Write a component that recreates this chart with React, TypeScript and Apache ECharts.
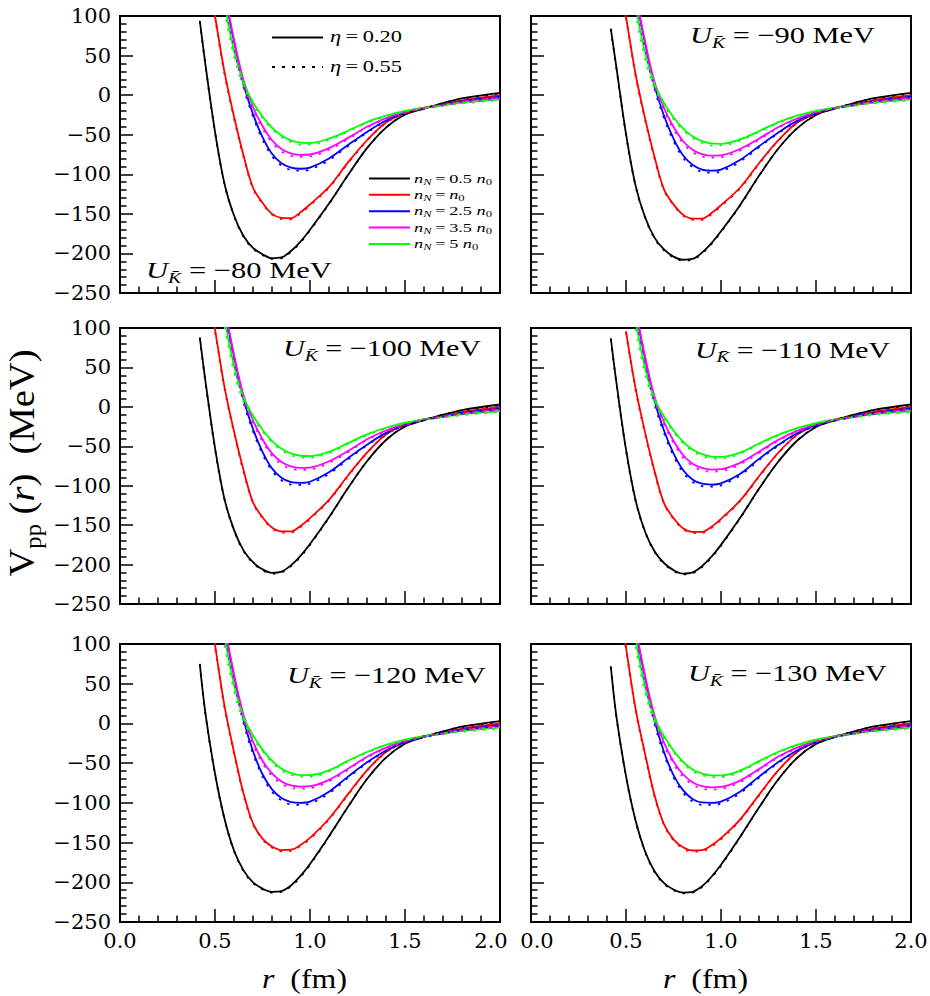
import React, { useEffect, useRef } from "react";
import * as echarts from "echarts";

// r grid (fm)
const R_FM = [0.42, 0.45, 0.5, 0.55, 0.6, 0.65, 0.7, 0.75, 0.8, 0.85, 0.9, 0.95, 1.0, 1.1, 1.2, 1.3, 1.4, 1.5, 1.6, 1.7, 1.8, 2.0];

const U_KBAR = [-80, -90, -100, -110, -120, -130];
const DENSITY_TEXT = ["0.5 ", "", "2.5 ", "3.5 ", "5 "];
const ETA_TEXT = ["0.20", "0.55"];
const COLORS = ["#000000", "#ff0000", "#0000ff", "#ff00ff", "#00ff00"];

// ---------- U = -80 MeV ----------
const u80_k = [94, 38, -46, -112, -152, -178, -193, -201, -206, -205, -197, -185, -170, -137, -101, -67, -41, -24.5, -17, -10, -4, 3];
const u80_r = [260, 170, 100, 29, -27, -76, -117, -136, -150, -155, -155.5, -148, -138, -116, -85, -57, -34.5, -22.5, -16, -12, -6.5, 0];
const u80_b = [400, 320, 220, 130, 68, 14, -24, -53, -74, -86, -91.5, -93, -91.5, -80, -63, -46.5, -32, -22.5, -16.5, -12, -7.5, -2];
const u80_m = [400, 320, 225, 135, 70, 19, -15, -39, -57, -68, -73.5, -75.5, -75, -67, -54, -40, -29, -21, -16, -12.5, -8.5, -3.5];
const u80_g = [380, 300, 205, 118, 56, 16, -9, -27, -41, -51, -57, -60, -60.5, -55, -45, -34, -26, -20, -16, -12.8, -9.5, -5.3];
const u80_kd = [93, 37, -47, -112.5, -152.5, -179, -194, -202, -207, -206, -198, -186, -171, -137.5, -101, -67, -41, -24.5, -17, -10, -4.5, 2];
const u80_rd = [255, 167, 98, 27, -29, -78, -118, -137, -151, -156.5, -157, -149.5, -139.5, -117, -86, -57.5, -35, -23, -16, -12.5, -7.5, -1.5];
const u80_bd = [390, 312, 214, 125, 63, 10, -27, -56, -77, -89, -94.5, -95.5, -94, -82, -64.5, -47.5, -33, -23.5, -17, -12.5, -8.5, -3];
const u80_md = [390, 312, 219, 129, 65, 14, -18, -42, -60, -71, -76.5, -78, -77.5, -69, -55.5, -41, -30, -22, -16.5, -13, -9.5, -4.5];
const u80_gd = [370, 290, 195, 108, 49, 11, -12, -29, -43, -53, -59, -62.5, -62.5, -56.5, -46, -35, -27, -21, -16.5, -13.5, -10.5, -6.5];

// ---------- U = -90 MeV ----------
const u90_k = [84, 34, -49, -114, -154, -180, -195, -204, -208, -207, -199, -187, -172, -139, -102, -68, -42, -25, -17, -10, -4, 3];
const u90_r = [258, 168, 99, 27, -29, -78, -119, -138, -151, -156, -156, -149, -139, -117, -86, -57.5, -35, -23, -16, -12, -6.5, 0];
const u90_b = [398, 318, 218, 128, 66, 12, -26, -55, -76, -88, -94, -95.5, -94, -82, -64.5, -47.5, -32.5, -23, -16.5, -12, -7.5, -2];
const u90_m = [398, 318, 222, 132, 68, 17, -16, -40, -58, -69, -74.5, -76.5, -76, -68, -55, -40.5, -29.5, -21, -16, -12.5, -8.5, -3.5];
const u90_g = [378, 298, 202, 115, 54, 14, -10, -28, -42, -52, -58, -61, -61.5, -56, -45.5, -34.5, -26, -20, -16, -12.8, -9.5, -5.3];
const u90_kd = [83, 33, -50, -114.5, -154.5, -181, -196, -205, -209, -208, -200, -188, -173, -139.5, -102, -68, -42, -25, -17, -10, -4.5, 2];
const u90_rd = [253, 165, 97, 25, -31, -80, -120, -139, -152, -157.5, -157.5, -150.5, -140.5, -118, -87, -58, -35.5, -23.5, -16, -12.5, -7.5, -1.5];
const u90_bd = [388, 310, 212, 123, 61, 8, -29, -58, -79, -91, -97, -98, -96.5, -84, -66, -48.5, -33.5, -23.5, -17, -12.5, -8.5, -3];
const u90_md = [388, 310, 216, 126, 63, 12, -19, -43, -61, -72, -77.5, -79, -78.5, -70, -56.5, -41.5, -30.5, -22, -16.5, -13, -9.5, -4.5];
const u90_gd = [368, 288, 192, 105, 47, 9, -13, -30, -44, -54, -60, -63.5, -63.5, -57.5, -46.5, -35.5, -27, -21, -16.5, -13.5, -10.5, -6.5];

// ---------- U = -100 MeV ----------
const u100_k = [88, 32, -52, -117, -156, -182, -197, -206, -210.5, -209, -201, -189, -174, -140, -103, -69, -42, -25, -17, -10, -4, 3];
const u100_r = [255, 166, 98, 25, -31, -80, -121, -140, -153, -158, -158, -151, -141, -118, -87, -58, -35, -23, -16, -12, -6.5, 0];
const u100_b = [395, 315, 215, 126, 64, 10, -28, -57, -78, -90, -95.5, -96.5, -95, -83, -65, -48, -33, -23, -16.5, -12, -7.5, -2];
const u100_m = [395, 315, 220, 130, 66, 15, -17, -41, -59, -70, -75.5, -77.5, -77, -69, -56, -41, -30, -21.5, -16, -12.5, -8.5, -3.5];
const u100_g = [375, 295, 200, 113, 52, 12, -11, -29, -43, -53, -59, -62, -62.5, -57, -46, -35, -26.5, -20, -16, -12.8, -9.5, -5.3];
const u100_kd = [87, 31, -53, -117.5, -156.5, -183, -198, -207, -211.5, -210, -202, -190, -175, -140.5, -103, -69, -42, -25, -17, -10, -4.5, 2];
const u100_rd = [250, 163, 96, 23, -33, -82, -122, -141, -154, -159.5, -159.5, -152.5, -142.5, -119, -88, -58.5, -35.5, -23.5, -16, -12.5, -7.5, -1.5];
const u100_bd = [385, 307, 209, 121, 59, 6, -31, -60, -81, -93, -98.5, -99, -97.5, -85, -66.5, -49, -34, -23.5, -17, -12.5, -8.5, -3];
const u100_md = [385, 307, 214, 124, 61, 10, -20, -44, -62, -73, -78.5, -80, -79.5, -71, -57.5, -42, -31, -22.5, -16.5, -13, -9.5, -4.5];
const u100_gd = [365, 285, 190, 103, 45, 7, -14, -31, -45, -55, -61, -64.5, -64.5, -58.5, -47, -36, -27.5, -21, -16.5, -13.5, -10.5, -6.5];

// ---------- U = -110 MeV ----------
const u110_k = [87, 30, -54, -118, -158, -183, -198, -207, -211.5, -210, -202, -190, -175, -141, -104, -70, -43, -25.5, -17, -10, -4, 3];
const u110_r = [null, null, 96, 24, -32, -81, -122, -141, -154, -158.5, -158.5, -152, -142, -119, -88, -58.5, -35.5, -23, -16, -12, -6.5, 0];
const u110_b = [392, 312, 212, 124, 62, 8, -30, -59, -80, -92, -97.5, -98.5, -97, -85, -66, -48.5, -33.5, -23.5, -17, -12, -7.5, -2];
const u110_m = [392, 312, 218, 128, 64, 13, -19, -43, -61, -72, -77.5, -79.5, -79, -71, -57, -42, -30.5, -22, -16.5, -12.5, -8.5, -3.5];
const u110_g = [372, 292, 198, 111, 50, 10, -12, -30, -44, -54, -60, -63, -63.5, -58, -46.5, -35.5, -27, -20.5, -16, -12.8, -9.5, -5.3];
const u110_kd = [86, 29, -55, -118.5, -158.5, -184, -199, -208, -212.5, -211, -203, -191, -176, -141.5, -104, -70, -43, -25.5, -17, -10, -4.5, 2];
const u110_rd = [null, null, 94, 22, -34, -83, -123, -142, -155, -160, -160, -153.5, -143.5, -120, -89, -59, -36, -23.5, -16, -12.5, -7.5, -1.5];
const u110_bd = [382, 304, 206, 119, 57, 4, -33, -62, -83, -95, -100.5, -101, -99.5, -87, -67.5, -49.5, -34.5, -24, -17.5, -12.5, -8.5, -3];
const u110_md = [382, 304, 212, 122, 59, 8, -22, -46, -64, -75, -80.5, -82, -81.5, -73, -58.5, -43, -31.5, -23, -17, -13, -9.5, -4.5];
const u110_gd = [362, 282, 188, 101, 43, 5, -15, -32, -46, -56, -62, -65.5, -65.5, -59.5, -47.5, -36.5, -28, -21.5, -16.5, -13.5, -10.5, -6.5];

// ---------- U = -120 MeV ----------
const u120_k = [75, 12, -63, -120, -160, -185, -200, -208, -212, -211, -204, -192, -177, -142, -105, -70, -43, -25.5, -17, -10, -4, 3];
const u120_r = [265, 175, 99, 22, -36, -88, -126, -145, -155, -159.5, -159, -153, -144, -120, -89, -59, -36, -23, -16, -12, -6.5, 0];
const u120_b = [390, 310, 210, 122, 60, 5, -35, -64, -83, -94, -99, -100, -98.5, -86, -67, -49, -34, -23.5, -17, -12, -7.5, -2];
const u120_m = [390, 310, 216, 126, 62, 11, -23, -47, -63, -73, -78, -79.5, -79, -71, -57, -42, -30.5, -22, -16.5, -12.5, -8.5, -3.5];
const u120_g = [370, 290, 196, 110, 49, 8, -15, -33, -47, -57, -62.5, -65, -65, -59, -47, -36, -27, -20.5, -16, -12.8, -9.5, -5.3];
const u120_kd = [74, 11, -64, -120.5, -160.5, -186, -201, -209, -213, -212, -205, -193, -178, -142.5, -105, -70, -43, -25.5, -17, -10, -4.5, 2];
const u120_rd = [260, 172, 97, 20, -38, -90, -127, -146, -156.5, -161, -160.5, -154.5, -145.5, -121, -90, -59.5, -36.5, -23.5, -16, -12.5, -7.5, -1.5];
const u120_bd = [380, 302, 204, 117, 55, 1, -38, -67, -86, -97, -102, -102.5, -101, -88, -68.5, -50, -35, -24, -17.5, -12.5, -8.5, -3];
const u120_md = [380, 302, 210, 120, 57, 6, -26, -50, -66, -76, -81, -82, -81.5, -73, -58.5, -43, -31.5, -23, -17, -13, -9.5, -4.5];
const u120_gd = [360, 280, 186, 100, 42, 3, -18, -35, -49, -59, -64.5, -67, -67, -60.5, -48, -37, -28, -21.5, -16.5, -13.5, -10.5, -6.5];

// ---------- U = -130 MeV ----------
const u130_k = [72, 8, -66, -122, -161, -186, -201, -209, -213, -212, -205, -193, -178, -143, -106, -71, -43.5, -26, -17, -10, -4, 3];
const u130_r = [270, 180, 96, 19, -38, -90, -127, -146, -156, -160, -159.5, -153.5, -144.5, -121, -90, -59.5, -36, -23, -16, -12, -6.5, 0];
const u130_b = [388, 308, 208, 120, 58, 4, -36, -65, -84, -95, -99.5, -100, -98.5, -86, -67, -49, -34, -23.5, -17, -12, -7.5, -2];
const u130_m = [388, 308, 214, 124, 60, 10, -24, -48, -64, -74, -79, -80.5, -80, -72, -57.5, -42, -30.5, -22, -16.5, -12.5, -8.5, -3.5];
const u130_g = [368, 288, 194, 108, 47, 7, -16, -34, -48, -58, -63, -65.5, -65.5, -59.5, -47.5, -36, -27, -20.5, -16, -12.8, -9.5, -5.3];
const u130_kd = [71, 7, -67, -122.5, -161.5, -187, -202, -210, -214, -213, -206, -194, -179, -143.5, -106, -71, -43.5, -26, -17, -10, -4.5, 2];
const u130_rd = [265, 177, 94, 17, -40, -92, -128, -147, -157.5, -161.5, -161, -155, -146, -122, -91, -60, -36.5, -23.5, -16, -12.5, -7.5, -1.5];
const u130_bd = [378, 300, 202, 115, 53, 0, -39, -68, -87, -98, -102.5, -102.5, -101, -88, -68.5, -50, -35, -24, -17.5, -12.5, -8.5, -3];
const u130_md = [378, 300, 208, 118, 55, 5, -27, -51, -67, -77, -82, -83, -82.5, -74, -59, -43, -31.5, -23, -17, -13, -9.5, -4.5];
const u130_gd = [358, 278, 184, 98, 40, 2, -19, -36, -50, -60, -65, -67.5, -67.5, -61, -48.5, -37, -28, -21.5, -16.5, -13.5, -10.5, -6.5];

const PANELS = [
  { solid: [u80_k, u80_r, u80_b, u80_m, u80_g], dotted: [u80_kd, u80_rd, u80_bd, u80_md, u80_gd] },
  { solid: [u90_k, u90_r, u90_b, u90_m, u90_g], dotted: [u90_kd, u90_rd, u90_bd, u90_md, u90_gd] },
  { solid: [u100_k, u100_r, u100_b, u100_m, u100_g], dotted: [u100_kd, u100_rd, u100_bd, u100_md, u100_gd] },
  { solid: [u110_k, u110_r, u110_b, u110_m, u110_g], dotted: [u110_kd, u110_rd, u110_bd, u110_md, u110_gd] },
  { solid: [u120_k, u120_r, u120_b, u120_m, u120_g], dotted: [u120_kd, u120_rd, u120_bd, u120_md, u120_gd] },
  { solid: [u130_k, u130_r, u130_b, u130_m, u130_g], dotted: [u130_kd, u130_rd, u130_bd, u130_md, u130_gd] },
];

// ---------- layout ----------
const W = 930;
const H = 996;
const FONT = "DejaVu Serif";
const TFONT = "Liberation Serif";
const GRID_BOXES = [
  { left: 120, top: 16, width: 380, height: 277 },
  { left: 531, top: 16, width: 380, height: 277 },
  { left: 120, top: 328, width: 380, height: 276 },
  { left: 531, top: 328, width: 380, height: 276 },
  { left: 120, top: 644, width: 380, height: 278 },
  { left: 531, top: 644, width: 380, height: 278 },
];
// [left x, centre y, width]
const ANN_POS = [
  [146, 270, 186],
  [690, 35, 185],
  [283, 348, 198],
  [695, 350, 195],
  [287, 675, 199],
  [688, 673, 199],
];

let measureCtx: CanvasRenderingContext2D | null = null;
function tw(text: string, size: number, italic = false, family = TFONT): number {
  if (!measureCtx) measureCtx = document.createElement("canvas").getContext("2d");
  const c = measureCtx!;
  c.font = `${italic ? "italic " : ""}${size}px "${family}"`;
  return c.measureText(text).width;
}

function buildOption() {
  const grids: any[] = [];
  const xAxes: any[] = [];
  const yAxes: any[] = [];
  const series: any[] = [];
  const graphics: any[] = [];

  GRID_BOXES.forEach((g, i) => {
    const bottomRow = i >= 4;
    const leftCol = i % 2 === 0;
    grids.push({
      left: g.left,
      top: g.top,
      width: g.width,
      height: g.height,
      show: true,
      borderColor: "#000",
      borderWidth: 2,
      backgroundColor: "transparent",
      containLabel: false,
      outerBoundsMode: "none",
    });
    xAxes.push({
      type: "value",
      gridIndex: i,
      min: 0,
      max: 2,
      interval: 0.5,
      axisLine: { show: true, onZero: false, lineStyle: { color: "#000", width: 2 } },
      axisTick: { show: true, inside: true, length: 13, lineStyle: { color: "#000", width: 1.5 } },
      minorTick: { show: true, splitNumber: 5, length: 6.5, lineStyle: { color: "#000", width: 1.5 } },
      splitLine: { show: false },
      minorSplitLine: { show: false },
      axisLabel: {
        show: bottomRow,
        formatter: (v: number) => {
          const s = v.toFixed(1);
          if (leftCol && v === 2) return `{r|${s}}`;
          if (!leftCol && v === 0) return `{l|${s}}`;
          return `{n|${s}}`;
        },
        rich: {
          n: { fontFamily: FONT, fontSize: 21, color: "#000" },
          r: { fontFamily: FONT, fontSize: 21, color: "#000", padding: [0, 18, 0, 0] },
          l: { fontFamily: FONT, fontSize: 21, color: "#000", padding: [0, 0, 0, 12] },
        },
        fontFamily: FONT,
        fontSize: 21,
        color: "#000",
        margin: 8,
      },
    });
    yAxes.push({
      type: "value",
      gridIndex: i,
      min: -250,
      max: 100,
      interval: 50,
      axisLine: { show: true, onZero: false, lineStyle: { color: "#000", width: 2 } },
      axisTick: { show: true, inside: true, length: 13, lineStyle: { color: "#000", width: 1.5 } },
      minorTick: { show: true, splitNumber: 5, length: 6.5, lineStyle: { color: "#000", width: 1.5 } },
      splitLine: { show: false },
      minorSplitLine: { show: false },
      axisLabel: {
        show: leftCol,
        formatter: (v: number) => String(v).replace("-", "\u2212"),
        fontFamily: FONT,
        fontSize: 21,
        color: "#000",
        margin: 9,
      },
    });
  });

  PANELS.forEach((p, i) => {
    const mk = (arr: (number | null)[], c: number, dotted: boolean) => ({
      type: "line",
      xAxisIndex: i,
      yAxisIndex: i,
      data: R_FM.map((r, k) => [r, arr[k]]).filter((d) => d[1] !== null),
      showSymbol: false,
      symbol: "none",
      smooth: 0.35,
      clip: true,
      silent: true,
      z: dotted ? 3 : 2,
      lineStyle: {
        color: COLORS[c],
        width: dotted ? 1.8 : 1.8,
        type: dotted ? [2.5, 7] : "solid",
        cap: "butt",
        join: "round",
      },
    });
    p.solid.forEach((arr, c) => series.push(mk(arr, c, false)));
    p.dotted.forEach((arr, c) => series.push(mk(arr, c, true)));
  });

  // U_Kbar annotations
  U_KBAR.forEach((u, i) => {
    const [lx, cy, target] = ANN_POS[i];
    const tail = ` = \u2212${Math.abs(u)} MeV`;
    const measured = tw("U", 23, true) + tw("K\u0304", 15, true) + tw(tail, 23);
    graphics.push({
      type: "text",
      x: lx,
      y: cy,
      scaleX: target / measured,
      silent: true,
      z: 10,
      style: {
        text: `{u|U}{k|K\u0304}{t|${tail}}`,
        align: "left",
        verticalAlign: "middle",
        textAlign: "left",
        textVerticalAlign: "middle",
        fill: "#000",
        rich: {
          u: { fontFamily: TFONT, fontStyle: "italic", fontSize: 23, lineHeight: 30, fill: "#000" },
          k: { fontFamily: TFONT, fontStyle: "italic", fontSize: 15, lineHeight: 14, verticalAlign: "bottom", fill: "#000" },
          t: { fontFamily: TFONT, fontSize: 23, lineHeight: 30, fill: "#000" },
        },
      },
    });
  });

  // y-axis title
  {
    const measured = tw("V", 36) + tw("pp", 23) + tw(" (", 36) + tw("r", 36, true) + tw(")  (MeV)", 36);
    graphics.push({
      type: "text",
      x: 22,
      y: 463,
      rotation: Math.PI / 2,
      scaleX: 227 / measured,
      silent: true,
      style: {
        text: "{v|V}{s|pp}{t| (}{i|r}{t|)  (MeV)}",
        align: "center",
        verticalAlign: "middle",
        textAlign: "center",
        textVerticalAlign: "middle",
        fill: "#000",
        rich: {
          v: { fontFamily: TFONT, fontSize: 36, lineHeight: 46, fill: "#000" },
          s: { fontFamily: TFONT, fontSize: 23, lineHeight: 22, verticalAlign: "bottom", fill: "#000" },
          t: { fontFamily: TFONT, fontSize: 36, lineHeight: 46, fill: "#000" },
          i: { fontFamily: TFONT, fontStyle: "italic", fontSize: 36, lineHeight: 46, fill: "#000" },
        },
      },
    });
  }

  // x-axis titles
  [262, 663].forEach((lx) => {
    const measured = tw("r", 28, true) + tw("  (fm)", 28);
    graphics.push({
      type: "text",
      x: lx,
      y: 978,
      scaleX: 85 / measured,
      silent: true,
      style: {
        text: "{i|r}{t|  (fm)}",
        align: "left",
        verticalAlign: "middle",
        textAlign: "left",
        textVerticalAlign: "middle",
        fill: "#000",
        rich: {
          i: { fontFamily: TFONT, fontStyle: "italic", fontSize: 28, lineHeight: 34, fill: "#000" },
          t: { fontFamily: TFONT, fontSize: 28, lineHeight: 34, fill: "#000" },
        },
      },
    });
  });

  // eta legend
  const etaY = [37.5, 67];
  ETA_TEXT.forEach((e, j) => {
    graphics.push({
      type: "line",
      silent: true,
      shape: { x1: 272, y1: etaY[j], x2: 323, y2: etaY[j] },
      style: { stroke: "#000", lineWidth: 2, lineDash: j === 0 ? null : [3, 7] },
    });
    const tail = `\u2009=\u2009${e}`;
    const measured = tw("\u03b7", 17, true) + tw(tail, 17);
    graphics.push({
      type: "text",
      x: 330,
      y: etaY[j] - 1,
      scaleX: 72 / measured,
      silent: true,
      style: {
        text: `{i|\u03b7}{t|${tail}}`,
        align: "left",
        verticalAlign: "middle",
        textAlign: "left",
        textVerticalAlign: "middle",
        fill: "#000",
        rich: {
          i: { fontFamily: TFONT, fontStyle: "italic", fontSize: 17, lineHeight: 20, fill: "#000" },
          t: { fontFamily: TFONT, fontSize: 17, lineHeight: 20, fill: "#000" },
        },
      },
    });
  });

  // density legend
  const legY = [178.5, 194.8, 211.2, 227.6, 244];
  const firstTail = `\u2009=\u2009${DENSITY_TEXT[0]}`;
  const firstMeasured =
    tw("n", 13, true) + tw("N", 9, true) + tw(firstTail, 13) + tw("n", 13, true) + tw("0", 9);
  const legScale = 78 / firstMeasured;
  DENSITY_TEXT.forEach((d, j) => {
    graphics.push({
      type: "line",
      silent: true,
      shape: { x1: 369, y1: legY[j], x2: 410, y2: legY[j] },
      style: { stroke: COLORS[j], lineWidth: 2 },
    });
    const tail = `\u2009=\u2009${d}`;
    graphics.push({
      type: "text",
      x: 414,
      y: legY[j] - 0.5,
      scaleX: legScale,
      silent: true,
      style: {
        text: `{i|n}{s|N}{t|${tail}}{i|n}{z|0}`,
        align: "left",
        verticalAlign: "middle",
        textAlign: "left",
        textVerticalAlign: "middle",
        fill: "#000",
        rich: {
          i: { fontFamily: TFONT, fontStyle: "italic", fontSize: 13, lineHeight: 16, fill: "#000" },
          s: { fontFamily: TFONT, fontStyle: "italic", fontSize: 9, lineHeight: 9, verticalAlign: "bottom", fill: "#000" },
          z: { fontFamily: TFONT, fontSize: 9, lineHeight: 9, verticalAlign: "bottom", fill: "#000" },
          t: { fontFamily: TFONT, fontSize: 13, lineHeight: 16, fill: "#000" },
        },
      },
    });
  });

  return {
    animation: false,
    backgroundColor: "#ffffff",
    grid: grids,
    xAxis: xAxes,
    yAxis: yAxes,
    series,
    graphic: graphics,
  };
}

export default function App() {
  const ref = useRef<HTMLDivElement>(null);
  useEffect(() => {
    if (!ref.current) return;
    const chart = echarts.init(ref.current, null, { renderer: "svg", width: W, height: H });
    chart.setOption(buildOption() as any);
    return () => chart.dispose();
  }, []);
  return (
    <div
      ref={ref}
      style={{ position: "fixed", left: 0, top: 0, width: W, height: H, background: "#fff" }}
    />
  );
}
